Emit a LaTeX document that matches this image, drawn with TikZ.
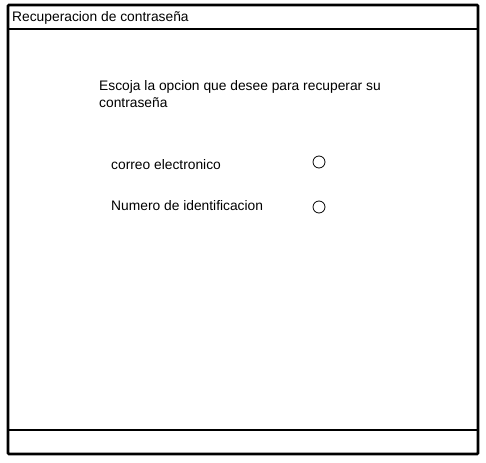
\documentclass[tikz,border=0pt]{standalone}
\usepackage{fontspec}
\setmainfont{Liberation Sans}
\usepackage{tikz}

\begin{document}
\begin{tikzpicture}[x=1pt,y=-1pt,
  texte/.style={anchor=base west, inner sep=0pt, font=\fontsize{13.8}{17.5}\selectfont},
  radio/.style={draw, circle, line width=0.8pt, minimum size=12pt, inner sep=0pt}]
\useasboundingbox (0,0) rectangle (486,462);

% cadre de la fenetre
\draw [line width=2.6pt, rounded corners=1pt] (8,5) rectangle (478,454);
\draw [line width=1.6pt] (8,29) -- (478,29);
\draw [line width=2pt] (8,430) -- (478,430);

\node [texte] (titre) at (12,22) {Recuperacion de contraseña};

\node [texte, align=left] (consigne) at (99,108) {Escoja la opcion que desee para recuperar su\\contraseña};

\node [texte] (correo) at (111,170) {correo electronico};
\node [texte] (numero) at (111,210) {Numero de identificacion};

\node [radio] (choixcorreo) at (319,162) {};
\node [radio] (choixnumero) at (319,207) {};

\end{tikzpicture}
\end{document}
